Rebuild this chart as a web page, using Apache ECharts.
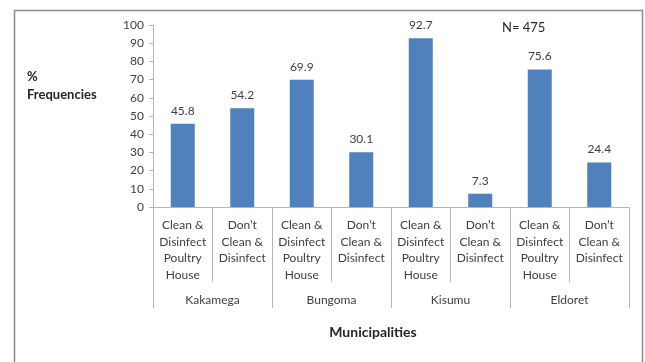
<!DOCTYPE html>
<html>
<head>
<meta charset="utf-8">
<script src="https://cdn.jsdelivr.net/npm/echarts@6/dist/echarts.min.js"></script>
<style>
html,body{margin:0;padding:0;background:#fff;}
#chart{width:645px;height:362px;}
</style>
</head>
<body>
<div id="chart"></div>
<script>
var subCategories = [
  "Clean &\nDisinfect\nPoultry\nHouse", "Don\u2019t\nClean &\nDisinfect",
  "Clean &\nDisinfect\nPoultry\nHouse", "Don\u2019t\nClean &\nDisinfect",
  "Clean &\nDisinfect\nPoultry\nHouse", "Don\u2019t\nClean &\nDisinfect",
  "Clean &\nDisinfect\nPoultry\nHouse", "Don\u2019t\nClean &\nDisinfect"
];
var municipalities = ["Kakamega", "Bungoma", "Kisumu", "Eldoret"];
var frequencies = [45.8, 54.2, 69.9, 30.1, 92.7, 7.3, 75.6, 24.4];
var yTicks = [0, 10, 20, 30, 40, 50, 60, 70, 80, 90, 100];

var FONT = "Lato";
var TXT = "#404040";
var AX = "#b5b5b5";

var chart = echarts.init(document.getElementById('chart'), null, {renderer: 'canvas'});
chart.setOption({
  backgroundColor: '#fff',
  animation: false,
  textStyle: {fontFamily: FONT},
  grid: {left: 153, right: 16, top: 25, bottom: 155, containLabel: false},
  xAxis: [
    {
      type: 'category',
      data: subCategories,
      position: 'bottom',
      axisLine: {show: true, lineStyle: {color: AX, width: 1}},
      axisTick: {show: true, length: 75, interval: 0, lineStyle: {color: AX}},
      axisLabel: {interval: 0, margin: 10, fontSize: 12, lineHeight: 16.5, color: TXT, fontFamily: FONT, verticalAlign: 'top'},
      splitLine: {show: false}
    },
    {
      type: 'category',
      data: municipalities,
      position: 'bottom',
      axisLine: {show: false},
      axisTick: {show: true, length: 101, interval: 0, lineStyle: {color: AX}},
      axisLabel: {interval: 0, margin: 87, fontSize: 12, color: TXT, fontFamily: FONT},
      splitLine: {show: false}
    }
  ],
  yAxis: {
    type: 'value',
    min: yTicks[0],
    max: yTicks[yTicks.length - 1],
    interval: yTicks[1] - yTicks[0],
    axisLine: {show: true, lineStyle: {color: AX}},
    axisTick: {show: true, length: 4, lineStyle: {color: AX}},
    axisLabel: {margin: 9, fontSize: 12, color: TXT, fontFamily: FONT},
    splitLine: {show: false}
  },
  series: [{
    type: 'bar',
    xAxisIndex: 0,
    data: frequencies,
    barWidth: 24,
    itemStyle: {color: '#4f81bd'},
    label: {show: true, position: 'top', distance: 7, fontSize: 12, color: TXT, fontFamily: FONT}
  }],
  graphic: [
    {type: 'rect', shape: {x: 14.5, y: 10.5, width: 628, height: 400}, style: {fill: 'none', stroke: '#8c8c8c', lineWidth: 1.5}, silent: true},
    {type: 'text', left: 27, top: 70, style: {text: '%', font: 'bold 13px Lato', fill: '#262626'}},
    {type: 'text', left: 27, top: 88, style: {text: 'Frequencies', font: 'bold 13px Lato', fill: '#262626'}},
    {type: 'text', left: 502, top: 21, style: {text: 'N= 475', font: '13px Lato', fill: '#262626'}},
    {type: 'text', x: 373, y: 332, style: {text: 'Municipalities', font: 'bold 14px Lato', fill: '#262626', align: 'center', verticalAlign: 'middle'}}
  ]
});
</script>
</body>
</html>
